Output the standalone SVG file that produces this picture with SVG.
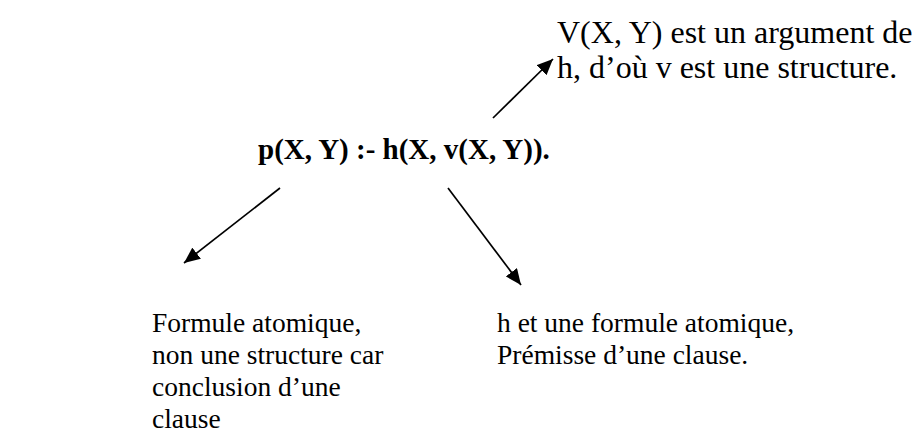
<svg xmlns="http://www.w3.org/2000/svg" width="923" height="437" viewBox="0 0 923 437">
<style>
text{font-family:"Liberation Serif","Times New Roman",serif;fill:#000;}
.t{font-size:32px;}
.s{font-size:27.5px;}
.b{font-size:29px;font-weight:bold;}
.c{stroke:#000;stroke-width:1.7;fill:none;}
</style>
<defs>
<marker id="ah" viewBox="0 0 16 14" refX="16" refY="7" markerWidth="16" markerHeight="14" markerUnits="userSpaceOnUse" orient="auto">
<path d="M0,0 L16,7 L0,14 Z" fill="#000"/>
</marker>
</defs>
<rect width="923" height="437" fill="#fff"/>
<g id="connectors">
<line class="c" x1="493" y1="118" x2="553" y2="59" marker-end="url(#ah)"/>
<line class="c" x1="280" y1="188" x2="184" y2="263" marker-end="url(#ah)"/>
<line class="c" x1="448" y1="188" x2="521" y2="285" marker-end="url(#ah)"/>
</g>
<g id="main">
<text class="b" x="258" y="159">p(X, Y) :- h(X, v(X, Y)).</text>
</g>
<g id="note-v">
<text class="t" x="557" y="43">V(X, Y) est un argument de</text>
<text class="t" x="557" y="78">h, d’où v est une structure.</text>
</g>
<g id="note-p">
<text class="s" x="152" y="332">Formule atomique,</text>
<text class="s" x="152" y="364">non une structure car</text>
<text class="s" x="152" y="396">conclusion d’une</text>
<text class="s" x="152" y="428">clause</text>
</g>
<g id="note-h">
<text class="s" x="497" y="332">h et une formule atomique,</text>
<text class="s" x="497" y="364">Prémisse d’une clause.</text>
</g>
</svg>
